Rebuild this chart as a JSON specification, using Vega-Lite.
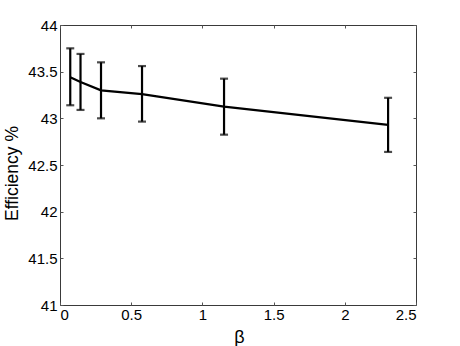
{
  "$schema": "https://vega.github.io/schema/vega-lite/v6.json",
  "autosize": "none",
  "width": 356,
  "height": 280,
  "padding": {"left": 60, "top": 25, "right": 44, "bottom": 41},
  "background": "white",
  "config": {
    "font": "Liberation Sans",
    "view": {"stroke": "#3a3a3a", "strokeWidth": 1},
    "axis": {
      "domain": false,
      "grid": false,
      "tickSize": -3,
      "tickColor": "#555555",
      "tickWidth": 1,
      "labelFont": "Liberation Sans",
      "labelFontSize": 15,
      "labelColor": "#000000",
      "titleFont": "Liberation Sans",
      "titleFontWeight": "normal",
      "titleColor": "#000000"
    }
  },
  "data": {
    "values": [
      {"beta": 0.072, "eff": 43.44, "lo": 43.14, "hi": 43.75},
      {"beta": 0.144, "eff": 43.39, "lo": 43.09, "hi": 43.69},
      {"beta": 0.288, "eff": 43.30, "lo": 43.00, "hi": 43.60},
      {"beta": 0.576, "eff": 43.26, "lo": 42.965, "hi": 43.56},
      {"beta": 1.152, "eff": 43.125, "lo": 42.825, "hi": 43.425},
      {"beta": 2.304, "eff": 42.93, "lo": 42.64, "hi": 43.22}
    ]
  },
  "layer": [
    {
      "mark": {"type": "line", "color": "#000000", "strokeWidth": 2.2},
      "encoding": {
        "x": {"field": "beta", "type": "quantitative",
              "scale": {"domain": [0, 2.5], "nice": false, "zero": false},
              "axis": {"orient": "bottom", "title": "β", "values": [0, 0.5, 1, 1.5, 2, 2.5], "labelPadding": 5, "format": "~g",
                       "titleFontSize": 18, "titleY": 32, "titleBaseline": "middle", "titleX": 179, "titleAlign": "center"}},
        "y": {"field": "eff", "type": "quantitative",
              "scale": {"domain": [41, 44], "nice": false, "zero": false},
              "axis": {"orient": "left", "title": "Efficiency %", "values": [41, 41.5, 42, 42.5, 43, 43.5, 44], "labelPadding": 6, "format": "~g",
                       "titleFontSize": 17.5, "titleX": -48, "titleY": 148, "titleBaseline": "middle", "titleAlign": "center", "titleAngle": 270}}
      }
    },
    {
      "mark": {"type": "rule", "color": "#000000", "strokeWidth": 2.2},
      "encoding": {
        "x": {"field": "beta", "type": "quantitative",
              "axis": {"orient": "top", "title": null, "labels": false, "values": [0, 0.5, 1, 1.5, 2, 2.5]}},
        "y": {"field": "lo", "type": "quantitative",
              "axis": {"orient": "right", "title": null, "labels": false, "values": [41, 41.5, 42, 42.5, 43, 43.5, 44]}},
        "y2": {"field": "hi"}
      }
    },
    {
      "mark": {"type": "tick", "orient": "horizontal", "color": "#000000", "size": 8, "thickness": 2.2},
      "encoding": {
        "x": {"field": "beta", "type": "quantitative", "axis": null},
        "y": {"field": "lo", "type": "quantitative", "axis": null}
      }
    },
    {
      "mark": {"type": "tick", "orient": "horizontal", "color": "#000000", "size": 8, "thickness": 2.2},
      "encoding": {
        "x": {"field": "beta", "type": "quantitative", "axis": null},
        "y": {"field": "hi", "type": "quantitative", "axis": null}
      }
    }
  ],
  "resolve": {"axis": {"x": "independent", "y": "independent"}}
}
